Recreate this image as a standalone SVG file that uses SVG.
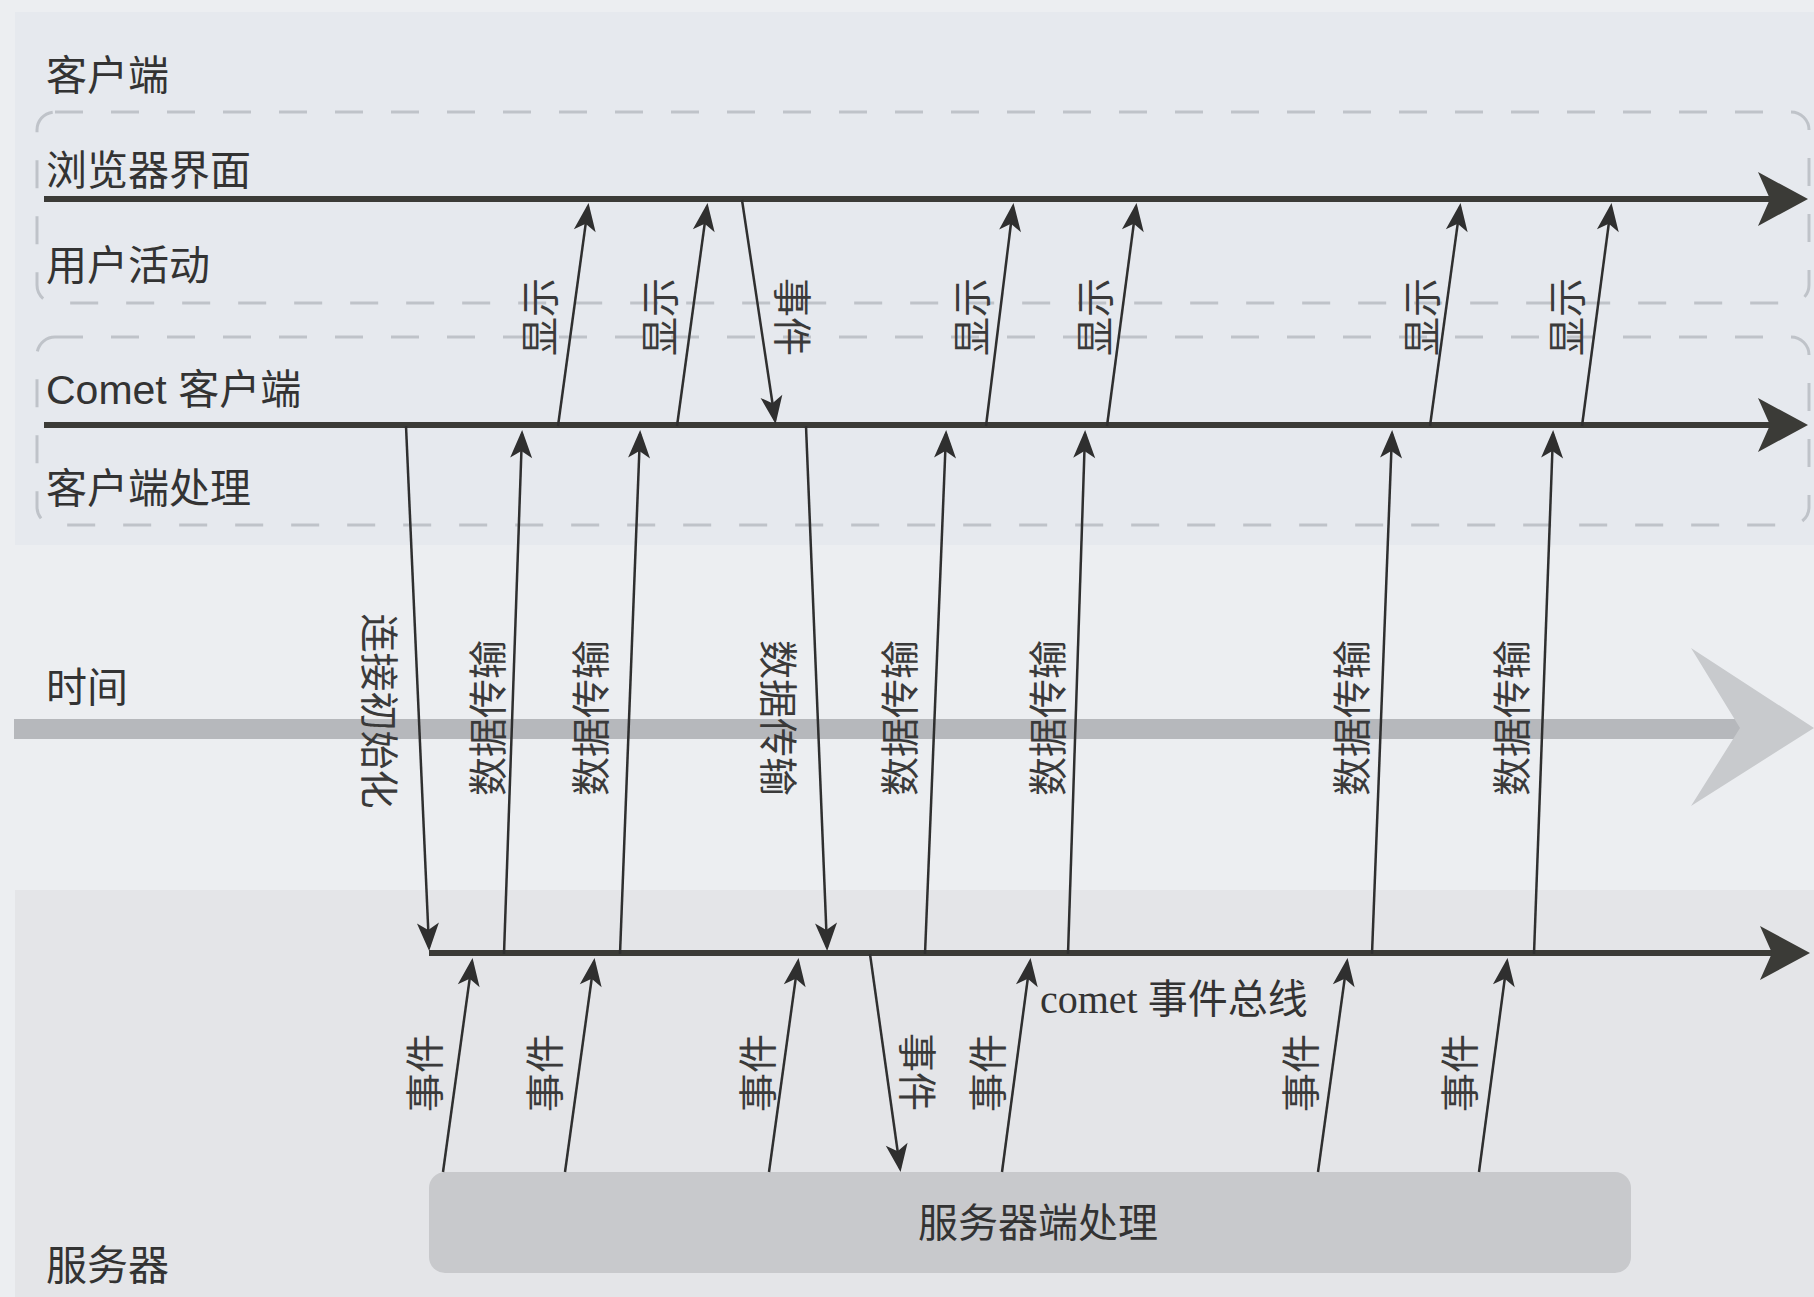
<svg xmlns="http://www.w3.org/2000/svg" width="1814" height="1297" viewBox="0 0 1814 1297">
<style>
.side{font-family:"Liberation Sans","Noto Sans CJK SC",sans-serif;font-size:41px;fill:#333;dominant-baseline:central}
.lbl{font-family:"Noto Sans CJK SC",sans-serif;font-size:39px;fill:#3a3a3a;text-anchor:middle;dominant-baseline:central}
.serif{font-family:"Liberation Serif","Noto Sans CJK SC",serif;font-size:40px;fill:#333;dominant-baseline:central}
.main{stroke:#3b3b37;stroke-width:6;fill:none}
.thin{stroke:#2f2f2f;stroke-width:2.5;fill:none;marker-end:url(#ah)}
.dash{fill:none;stroke:#bfc3c9;stroke-width:3;stroke-dasharray:28 28}
</style>
<defs>
<marker id="ah" viewBox="-30 -13 34 26" refX="-2" refY="0" markerWidth="34" markerHeight="26" markerUnits="userSpaceOnUse" orient="auto">
<path d="M2,0 L-26,-11 L-19,0 L-26,11 Z" fill="#2f2f2f"/>
</marker>
<marker id="bh" viewBox="-52 -30 56 60" refX="-14" refY="0" markerWidth="56" markerHeight="60" markerUnits="userSpaceOnUse" orient="auto">
<path d="M2,0 L-48,-27 L-36,0 L-48,27 Z" fill="#3b3b37"/>
</marker>
</defs>
<rect x="0" y="0" width="1814" height="1297" fill="#eceef1"/>
<rect x="15" y="12" width="1799" height="533" fill="#e6e9ee"/>
<rect x="15" y="890" width="1799" height="407" fill="#e4e5e8"/>
<g id="client-boxes">
<rect class="dash" x="37" y="112" width="1772" height="191" rx="18"/>
<rect class="dash" x="37" y="337" width="1772" height="188" rx="18"/>
</g>
<g id="time-axis">
<rect x="14" y="719" width="1730" height="20" fill="#b6b8bc"/>
<polygon points="1691,648 1814,728 1691,806 1740,728" fill="#c8cacd"/>
<text class="side" x="46" y="688">时间</text>
</g>
<g id="lanes">
<text class="side" x="46" y="76">客户端</text>
<text class="side" x="46" y="171">浏览器界面</text>
<text class="side" x="46" y="266">用户活动</text>
<text class="side" x="46" y="390">Comet 客户端</text>
<text class="side" x="46" y="489">客户端处理</text>
<text class="side" x="46" y="1266">服务器</text>
</g>
<g id="browser-line"><path class="main" d="M44,199 H1792" marker-end="url(#bh)"/></g>
<g id="comet-client-line"><path class="main" d="M44,425 H1792" marker-end="url(#bh)"/></g>
<g id="comet-bus">
<path class="main" d="M429,953 H1794" marker-end="url(#bh)"/>
<text class="serif" x="1040" y="999">comet 事件总线</text>
</g>
<g id="server-processing">
<rect x="429" y="1172" width="1202" height="101" rx="16" fill="#c8c9cc"/>
<text class="serif" x="1038" y="1223" text-anchor="middle">服务器端处理</text>
</g>
<g id="connectors">
<path class="thin" d="M558,426 L588,207"/>
<path class="thin" d="M677,426 L707,207"/>
<path class="thin" d="M742,200 L775,420"/>
<path class="thin" d="M986,426 L1013,207"/>
<path class="thin" d="M1107,426 L1136,207"/>
<path class="thin" d="M1430,426 L1460,207"/>
<path class="thin" d="M1582,426 L1611,207"/>
<path class="thin" d="M406,426 L429,947"/>
<path class="thin" d="M504,954 L522,434"/>
<path class="thin" d="M620,954 L640,434"/>
<path class="thin" d="M806,426 L827,947"/>
<path class="thin" d="M925,954 L946,434"/>
<path class="thin" d="M1068,954 L1085,434"/>
<path class="thin" d="M1372,954 L1392,434"/>
<path class="thin" d="M1534,954 L1553,434"/>
<path class="thin" d="M443,1172 L472,962"/>
<path class="thin" d="M565,1172 L594,962"/>
<path class="thin" d="M769,1172 L798,962"/>
<path class="thin" d="M870,954 L900,1168"/>
<path class="thin" d="M1002,1172 L1030,962"/>
<path class="thin" d="M1318,1172 L1347,962"/>
<path class="thin" d="M1479,1172 L1507,962"/>
</g>
<g id="connector-labels">
<text class="lbl" transform="translate(537,317) rotate(-90)">显示</text>
<text class="lbl" transform="translate(657,317) rotate(-90)">显示</text>
<text class="lbl" transform="translate(795,317) rotate(90)">事件</text>
<text class="lbl" transform="translate(969,317) rotate(-90)">显示</text>
<text class="lbl" transform="translate(1092,317) rotate(-90)">显示</text>
<text class="lbl" transform="translate(1419,317) rotate(-90)">显示</text>
<text class="lbl" transform="translate(1564,317) rotate(-90)">显示</text>
<text class="lbl" transform="translate(382,711) rotate(90)">连接初始化</text>
<text class="lbl" transform="translate(485,718) rotate(-90)">数据传输</text>
<text class="lbl" transform="translate(588,718) rotate(-90)">数据传输</text>
<text class="lbl" transform="translate(781,718) rotate(90)">数据传输</text>
<text class="lbl" transform="translate(897,718) rotate(-90)">数据传输</text>
<text class="lbl" transform="translate(1045,718) rotate(-90)">数据传输</text>
<text class="lbl" transform="translate(1349,718) rotate(-90)">数据传输</text>
<text class="lbl" transform="translate(1509,718) rotate(-90)">数据传输</text>
<text class="lbl" transform="translate(422,1073) rotate(-90)">事件</text>
<text class="lbl" transform="translate(542,1073) rotate(-90)">事件</text>
<text class="lbl" transform="translate(755,1073) rotate(-90)">事件</text>
<text class="lbl" transform="translate(920,1072) rotate(90)">事件</text>
<text class="lbl" transform="translate(985,1073) rotate(-90)">事件</text>
<text class="lbl" transform="translate(1298,1073) rotate(-90)">事件</text>
<text class="lbl" transform="translate(1457,1073) rotate(-90)">事件</text>
</g>
</svg>
